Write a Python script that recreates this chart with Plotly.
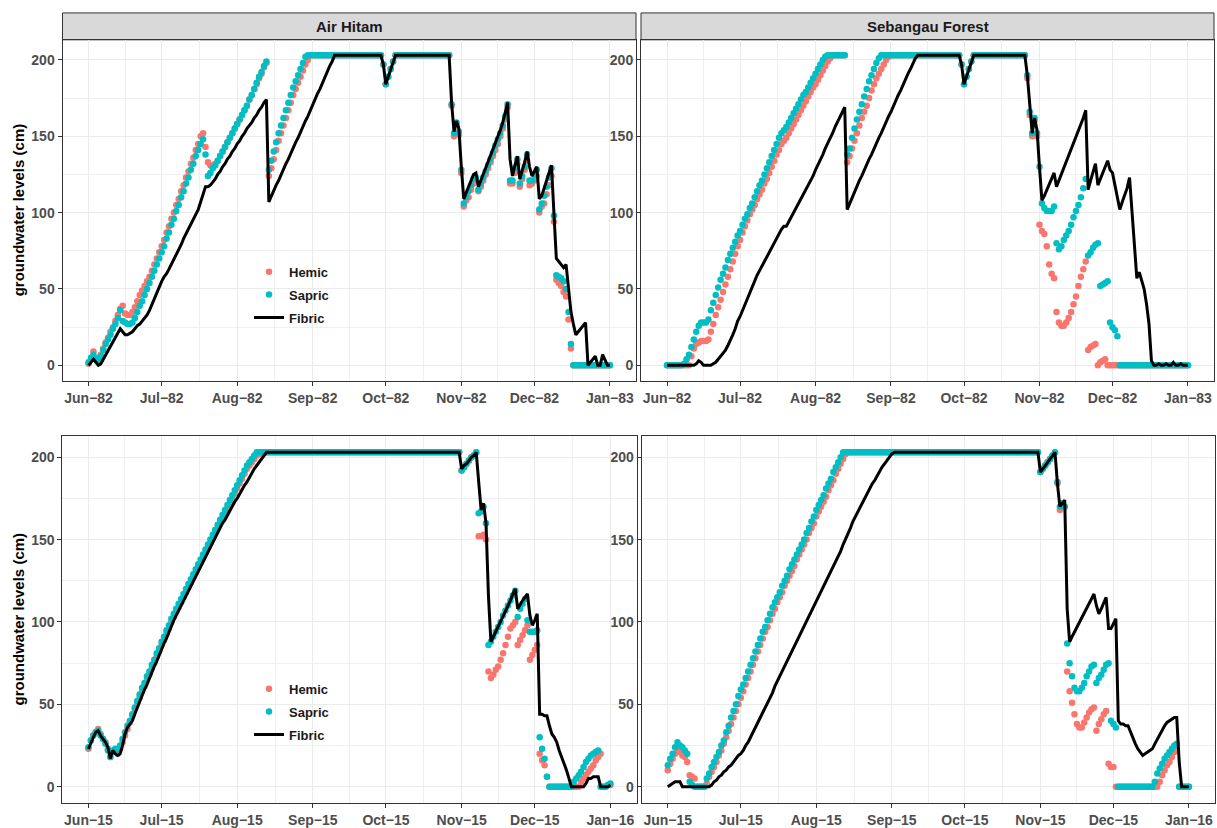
import pandas as pd
import plotly.graph_objects as go

FONT = "Liberation Sans, Arial, Helvetica, sans-serif"
HEMIC_COLOR = "#F8766D"
SAPRIC_COLOR = "#00BFC4"
FIBRIC_COLOR = "#000000"
W, H = 1217, 828

# ---------------------------------------------------------------- data
dates_1982 = pd.date_range("1982-06-01", "1983-01-01", freq="D")
dates_2015 = pd.date_range("2015-06-01", "2016-01-01", freq="D")
month_labels_1982 = ["Jun−82", "Jul−82", "Aug−82", "Sep−82", "Oct−82", "Nov−82", "Dec−82", "Jan−83"]
month_labels_2015 = ["Jun−15", "Jul−15", "Aug−15", "Sep−15", "Oct−15", "Nov−15", "Dec−15", "Jan−16"]
site_names = ["Air Hitam", "Sebangau Forest"]
series_names = ["Hemic", "Sapric", "Fibric"]
y_ticks = [0, 50, 100, 150, 200]
y_minor = [25, 75, 125, 175]
y_title = "groundwater levels (cm)"

# daily groundwater levels (cm), 1 Jun 1982 .. 1 Jan 1983
ah82_hemic = [
    1, 4, 9, 5, 4, 7, 11, 15, 18, 22,
    25, 29, 33, 37, 39, 34, 33, 33, 35, 38,
    42, 46, 49, 52, 55, 58, 62, 66, 70, 74,
    78, 82, 87, 91, 96, 100, 105, 109, 114, 118,
    123, 127, 132, 136, 141, 145, 150, 152, 143, 133,
    131, 130, 132, 134, 137, 140, 143, 146, 149, 152,
    155,
    158, 161, 164, 167, 170, 174, 177, 181, 184, 188,
    191, 195, 198, 124, 129, 135, 141, 147, 152, 157,
    162, 167, 172, 177, 181, 185, 189, 193, 197, 200,
    203,
    203, 203, 203, 203, 203, 203, 203, 203, 203, 203,
    203, 203, 203, 203, 203, 203, 203, 203, 203, 203,
    203, 203, 203, 203, 203, 203, 203, 203, 203, 197,
    184, 189, 194, 199, 203, 203, 203, 203, 203, 203,
    203, 203, 203, 203, 203, 203, 203, 203, 203, 203,
    203, 203, 203, 203, 203, 203, 203, 170, 150, 157,
    151,
    126, 104, 108, 110, 115, 119, 121, 114, 117, 121,
    125, 129, 133, 137, 141, 145, 150, 155, 161, 169,
    119, 119, 126, 132, 117, 122, 128, 134, 118, 119,
    121, 124, 100, 104, 106, 112, 118, 124, 94, 56,
    54, 52, 48, 45, 30, 11, 0, 0, 0, 0,
    0, 0, 0, 0, 0, 0, 0, 0, 0, 0,
    0,
    0,
]
ah82_sapric = [
    2, 5, 7, 4, 3, 6, 10, 14, 17, 20,
    24, 27, 31, 36, 29, 28, 27, 27, 28, 31,
    35, 39, 42, 46, 50, 54, 58, 62, 66, 70,
    74, 78, 83, 87, 92, 96, 101, 105, 110, 114,
    119, 123, 128, 132, 137, 141, 145, 148, 138, 124,
    126, 129, 131, 134, 137, 140, 143, 146, 149, 152,
    155,
    158, 161, 164, 167, 170, 174, 177, 181, 185, 189,
    192, 196, 199, 128, 134, 140, 146, 152, 157, 162,
    167, 172, 177, 182, 186, 190, 194, 198, 202, 203,
    203,
    203, 203, 203, 203, 203, 203, 203, 203, 203, 203,
    203, 203, 203, 203, 203, 203, 203, 203, 203, 203,
    203, 203, 203, 203, 203, 203, 203, 203, 203, 197,
    184, 189, 194, 199, 203, 203, 203, 203, 203, 203,
    203, 203, 203, 203, 203, 203, 203, 203, 203, 203,
    203, 203, 203, 203, 203, 203, 203, 171, 152, 159,
    153,
    128, 106, 110, 114, 118, 122, 123, 115, 119, 123,
    127, 131, 135, 139, 144, 148, 152, 157, 163, 171,
    121, 121, 129, 135, 119, 124, 130, 138, 121, 121,
    125, 128, 102, 106, 111, 117, 123, 129, 98, 59,
    58, 57, 55, 50, 35, 14, 0, 0, 0, 0,
    0, 0, 0, 0, 0, 0, 0, 0, 0, 0,
    0,
    0,
]
ah82_fibric = [
    0, 2, 4, 2, 0, 1, 4, 7, 10, 12,
    15, 18, 21, 24, 22, 20, 20, 21, 22, 24,
    26, 27, 29, 31, 33, 36, 40, 44, 48, 52,
    55, 58, 60, 63, 66, 69, 73, 76, 79, 83,
    86, 89, 92, 95, 99, 102, 107, 112, 117, 117,
    118, 120, 122, 125, 127, 130, 132, 135, 137, 140,
    142,
    145, 147, 150, 152, 155, 157, 159, 162, 164, 167,
    169, 172, 174, 107, 111, 114, 118, 121, 125, 128,
    132, 135, 139, 142, 146, 149, 153, 156, 160, 163,
    167,
    171, 174, 178, 181, 185, 189, 192, 196, 199, 203,
    203, 203, 203, 203, 203, 203, 203, 203, 203, 203,
    203, 203, 203, 203, 203, 203, 203, 203, 203, 197,
    184, 189, 194, 199, 203, 203, 203, 203, 203, 203,
    203, 203, 203, 203, 203, 203, 203, 203, 203, 203,
    203, 203, 203, 203, 203, 203, 203, 172, 153, 160,
    155,
    130, 109, 113, 117, 121, 125, 126, 117, 121, 125,
    129, 133, 137, 141, 146, 150, 154, 159, 165, 172,
    135, 124, 131, 137, 122, 127, 133, 140, 130, 124,
    127, 130, 109, 111, 116, 121, 126, 131, 100, 70,
    68, 66, 64, 66, 51, 35, 27, 20, 22, 24,
    26, 28, 0, 2, 4, 6, 0, 0, 7, 3,
    0,
    0,
]

sb82_hemic = [
    0, 0, 0, 0, 0, 0, 0, 0, 0, 0,
    6, 11, 14, 15, 16, 16, 16, 17, 22, 27,
    33, 38, 43, 48, 53, 58, 63, 68, 73, 78,
    82, 87, 91, 95, 99, 102, 105, 109, 112, 115,
    119, 122, 126, 130, 134, 138, 141, 145, 147, 149,
    152, 155, 158, 161, 164, 167, 170, 173, 176, 179,
    182,
    184, 187, 190, 193, 196, 199, 201, 203, 203, 203,
    203, 203, 203, 133, 137, 142, 147, 152, 157, 162,
    166, 170, 175, 180, 184, 188, 191, 194, 197, 200,
    202,
    203, 203, 203, 203, 203, 203, 203, 203, 203, 203,
    203, 203, 203, 203, 203, 203, 203, 203, 203, 203,
    203, 203, 203, 203, 203, 203, 203, 203, 203, 197,
    184, 189, 194, 199, 203, 203, 203, 203, 203, 203,
    203, 203, 203, 203, 203, 203, 203, 203, 203, 203,
    203, 203, 203, 203, 203, 203, 188, 164, 150, 160,
    150,
    92, 88, 86, 78, 66, 60, 57, 35, 28, 26,
    26, 28, 31, 35, 40, 45, 52, 58, 63, 68,
    10, 12, 13, 14, 0, 2, 3, 4, 0, 0,
    0, 0, 0, 0, 0, 0, 0, 0, 0, 0,
    0, 0, 0, 0, 0, 0, 0, 0, 0, 0,
    0, 0, 0, 0, 0, 0, 0, 0, 0, 0,
    0,
    0,
]
sb82_sapric = [
    0, 0, 0, 0, 0, 0, 0, 1, 4, 7,
    12, 17, 22, 26, 28, 28, 28, 30, 36, 41,
    46, 51, 56, 60, 64, 69, 73, 77, 81, 85,
    88, 92, 96, 99, 103, 106, 110, 114, 118, 121,
    125, 129, 133, 137, 141, 145, 149, 152, 154, 156,
    159, 162, 165, 168, 171, 174, 177, 179, 182, 185,
    188,
    191, 194, 197, 200, 202, 203, 203, 203, 203, 203,
    203, 203, 203, 138, 142, 149, 155, 161, 166, 171,
    176, 181, 186, 190, 194, 198, 201, 203, 203, 203,
    203,
    203, 203, 203, 203, 203, 203, 203, 203, 203, 203,
    203, 203, 203, 203, 203, 203, 203, 203, 203, 203,
    203, 203, 203, 203, 203, 203, 203, 203, 203, 197,
    184, 189, 194, 199, 203, 203, 203, 203, 203, 203,
    203, 203, 203, 203, 203, 203, 203, 203, 203, 203,
    203, 203, 203, 203, 203, 203, 190, 166, 152, 162,
    152,
    130, 106, 103, 101, 101, 101, 104, 80, 76, 78,
    82, 85, 88, 92, 97, 101, 105, 110, 116, 122,
    72, 74, 77, 79, 80, 52, 53, 54, 55, 28,
    25, 23, 19, 0, 0, 0, 0, 0, 0, 0,
    0, 0, 0, 0, 0, 0, 0, 0, 0, 0,
    0, 0, 0, 0, 0, 0, 0, 0, 0, 0,
    0,
    0,
]
sb82_fibric = [
    0, 0, 0, 0, 0, 0, 0, 0, 0, 0,
    0, 0, 1, 3, 2, 0, 0, 0, 0, 1,
    2, 4, 6, 8, 10, 13, 16, 20, 24, 29,
    32, 36, 40, 44, 48, 52, 56, 59, 62, 65,
    68, 72, 75, 77, 80, 83, 86, 89, 91, 91,
    94, 97, 100, 103, 106, 109, 112, 115, 118, 121,
    124,
    128, 131, 135, 138, 142, 145, 149, 152, 156, 159,
    162, 165, 169, 102, 106, 110, 114, 117, 121, 124,
    128, 131, 135, 138, 142, 145, 149, 152, 156, 159,
    163,
    166, 170, 173, 177, 180, 184, 187, 191, 194, 198,
    201, 203, 203, 203, 203, 203, 203, 203, 203, 203,
    203, 203, 203, 203, 203, 203, 203, 203, 203, 197,
    184, 189, 194, 199, 203, 203, 203, 203, 203, 203,
    203, 203, 203, 203, 203, 203, 203, 203, 203, 203,
    203, 203, 203, 203, 203, 203, 190, 168, 152, 162,
    154,
    130, 108, 111, 115, 119, 123, 126, 117, 121, 125,
    129, 133, 137, 141, 145, 149, 153, 157, 162, 167,
    115, 121, 126, 132, 118, 122, 126, 130, 134, 128,
    126, 118, 110, 102, 107, 111, 116, 123, 100, 75,
    57, 61, 56, 50, 40, 27, 3, 0, 0, 1,
    0, 0, 1, 0, 0, 2, 0, 0, 1, 0,
    0,
    0,
]

# daily groundwater levels (cm), 1 Jun 2015 .. 1 Jan 2016
ah15_hemic = [
    23, 28, 31, 33, 35, 32, 29, 27, 23, 18,
    21, 21, 20, 23, 27, 31, 35, 39, 43, 47,
    51, 54, 58, 61, 65, 68, 72, 75, 79, 82,
    86, 89, 93, 96, 100, 103, 106, 109, 112, 115,
    118, 121, 124, 127, 130, 133, 136, 139, 142, 145,
    148, 151, 154, 157, 160, 163, 166, 169, 172, 175,
    178,
    181, 184, 187, 190, 193, 195, 197, 199, 201, 202,
    203, 203, 203, 203, 203, 203, 203, 203, 203, 203,
    203, 203, 203, 203, 203, 203, 203, 203, 203, 203,
    203,
    203, 203, 203, 203, 203, 203, 203, 203, 203, 203,
    203, 203, 203, 203, 203, 203, 203, 203, 203, 203,
    203, 203, 203, 203, 203, 203, 203, 203, 203, 203,
    203, 203, 203, 203, 203, 203, 203, 203, 203, 203,
    203, 203, 203, 203, 203, 203, 203, 203, 203, 203,
    203, 203, 203, 203, 203, 203, 203, 203, 203, 203,
    203,
    192, 194, 196, 198, 200, 201, 203, 152, 152, 153,
    150, 70, 66, 68, 71, 73, 77, 81, 86, 91,
    96, 98, 100, 86, 89, 92, 95, 98, 77, 80,
    83, 86, 20, 16, 13, 6, 0, 0, 0, 0,
    0, 0, 0, 0, 0, 0, 0, 0, 0, 3,
    5, 7, 9, 11, 13, 16, 18, 20, 0, 0,
    1,
    1,
]
ah15_sapric = [
    24, 28, 31, 33, 34, 31, 29, 26, 22, 18,
    22, 23, 22, 25, 29, 33, 37, 40, 44, 48,
    52, 56, 60, 63, 67, 70, 74, 77, 81, 84,
    88, 91, 95, 98, 102, 105, 108, 111, 114, 117,
    120, 123, 126, 129, 132, 135, 138, 141, 144, 147,
    150, 153, 156, 159, 162, 165, 168, 171, 174, 177,
    180,
    183, 186, 189, 192, 195, 197, 199, 201, 203, 203,
    203, 203, 203, 203, 203, 203, 203, 203, 203, 203,
    203, 203, 203, 203, 203, 203, 203, 203, 203, 203,
    203,
    203, 203, 203, 203, 203, 203, 203, 203, 203, 203,
    203, 203, 203, 203, 203, 203, 203, 203, 203, 203,
    203, 203, 203, 203, 203, 203, 203, 203, 203, 203,
    203, 203, 203, 203, 203, 203, 203, 203, 203, 203,
    203, 203, 203, 203, 203, 203, 203, 203, 203, 203,
    203, 203, 203, 203, 203, 203, 203, 203, 203, 203,
    203,
    192, 194, 196, 198, 200, 201, 203, 166, 167, 170,
    160, 86, 88, 91, 94, 97, 100, 104, 107, 110,
    113, 116, 119, 103, 108, 111, 114, 101, 94, 94,
    94, 95, 30, 23, 17, 6, 0, 0, 0, 0,
    0, 0, 0, 0, 0, 0, 3, 5, 7, 9,
    12, 15, 17, 19, 20, 21, 22, 0, 0, 0,
    1,
    2,
]
ah15_fibric = [
    23, 27, 30, 33, 34, 31, 29, 27, 24, 17,
    22, 20, 19, 20, 25, 32, 36, 38, 40, 44,
    48, 52, 55, 59, 62, 66, 69, 73, 76, 80,
    83, 87, 90, 94, 97, 101, 104, 107, 110, 113,
    116, 119, 122, 125, 128, 131, 134, 137, 140, 143,
    146, 149, 152, 154, 157, 160, 162, 165, 168, 170,
    173,
    175, 178, 180, 183, 185, 188, 190, 193, 195, 197,
    199, 201, 203, 203, 203, 203, 203, 203, 203, 203,
    203, 203, 203, 203, 203, 203, 203, 203, 203, 203,
    203,
    203, 203, 203, 203, 203, 203, 203, 203, 203, 203,
    203, 203, 203, 203, 203, 203, 203, 203, 203, 203,
    203, 203, 203, 203, 203, 203, 203, 203, 203, 203,
    203, 203, 203, 203, 203, 203, 203, 203, 203, 203,
    203, 203, 203, 203, 203, 203, 203, 203, 203, 203,
    203, 203, 203, 203, 203, 203, 203, 203, 203, 203,
    203,
    193, 195, 196, 198, 200, 201, 203, 185, 168, 172,
    160, 116, 88, 91, 94, 97, 101, 104, 107, 110,
    113, 117, 120, 108, 111, 113, 115, 117, 104, 98,
    101, 105, 44, 44, 43, 43, 37, 32, 30, 27,
    22, 18, 15, 10, 5, 0, 0, 0, 0, 0,
    0, 2, 5, 5, 6, 6, 6, 0, 0, 0,
    0,
    1,
]

sb15_hemic = [
    10, 14, 17, 20, 22, 21, 19, 18, 15, 7,
    6, 5, 0, 0, 0, 0, 2, 6, 9, 12,
    15, 19, 22, 26, 30, 34, 38, 42, 46, 50,
    54, 58, 62, 66, 70, 74, 78, 82, 86, 90,
    94, 97, 101, 105, 108, 112, 115, 118, 122, 125,
    128, 131, 134, 138, 141, 144, 147, 150, 154, 157,
    160,
    164, 167, 170, 173, 176, 180, 183, 186, 190, 193,
    196, 199, 202, 203, 203, 203, 203, 203, 203, 203,
    203, 203, 203, 203, 203, 203, 203, 203, 203, 203,
    203,
    203, 203, 203, 203, 203, 203, 203, 203, 203, 203,
    203, 203, 203, 203, 203, 203, 203, 203, 203, 203,
    203, 203, 203, 203, 203, 203, 203, 203, 203, 203,
    203, 203, 203, 203, 203, 203, 203, 203, 203, 203,
    203, 203, 203, 203, 203, 203, 203, 203, 203, 203,
    203, 203, 203, 203, 203, 203, 203, 203, 203, 203,
    203,
    191, 193, 195, 197, 199, 201, 203, 184, 168, 170,
    170, 70, 58, 51, 44, 38, 36, 36, 39, 42,
    45, 47, 48, 34, 38, 41, 44, 46, 14, 12,
    12, 0, 0, 0, 0, 0, 0, 0, 0, 0,
    0, 0, 0, 0, 0, 0, 0, 0, 0, 3,
    7, 10, 13, 15, 18, 21, 22, 0, 0, 0,
    0,
    0,
]
sb15_sapric = [
    13, 17, 20, 24, 27, 25, 24, 22, 20, 3,
    1, 0, 0, 0, 0, 0, 5, 8, 12, 15,
    18, 21, 25, 28, 33, 37, 42, 46, 50, 55,
    59, 62, 66, 70, 74, 78, 82, 86, 90, 94,
    97, 101, 105, 109, 112, 115, 118, 122, 125, 128,
    132, 135, 138, 141, 144, 147, 150, 154, 157, 161,
    164,
    168, 171, 174, 177, 181, 184, 187, 191, 194, 197,
    200, 203, 203, 203, 203, 203, 203, 203, 203, 203,
    203, 203, 203, 203, 203, 203, 203, 203, 203, 203,
    203,
    203, 203, 203, 203, 203, 203, 203, 203, 203, 203,
    203, 203, 203, 203, 203, 203, 203, 203, 203, 203,
    203, 203, 203, 203, 203, 203, 203, 203, 203, 203,
    203, 203, 203, 203, 203, 203, 203, 203, 203, 203,
    203, 203, 203, 203, 203, 203, 203, 203, 203, 203,
    203, 203, 203, 203, 203, 203, 203, 203, 203, 203,
    203,
    191, 193, 195, 197, 199, 201, 203, 185, 170, 172,
    170, 87, 75, 67, 60, 58, 58, 60, 63, 67,
    70, 73, 74, 63, 66, 68, 71, 74, 75, 40,
    38, 36, 0, 0, 0, 0, 0, 0, 0, 0,
    0, 0, 0, 0, 0, 0, 0, 3, 8, 11,
    14, 17, 19, 21, 23, 25, 26, 0, 0, 0,
    0,
    0,
]
sb15_fibric = [
    0, 1, 2, 3, 3, 3, 0, 0, 0, 0,
    0, 0, 0, 0, 0, 0, 0, 0, 1, 3,
    4, 6, 7, 9, 10, 12, 13, 15, 17, 19,
    20, 22, 25, 27, 30, 33, 36, 39, 42, 45,
    48, 51, 54, 57, 61, 64, 68, 71, 74, 77,
    80, 83, 86, 89, 92, 95, 98, 101, 104, 107,
    110,
    113, 116, 119, 122, 125, 128, 131, 134, 137, 140,
    143, 147, 150, 154, 157, 161, 164, 167, 170, 173,
    176, 179, 182, 184, 186, 189, 191, 194, 196, 198,
    200,
    202, 203, 203, 203, 203, 203, 203, 203, 203, 203,
    203, 203, 203, 203, 203, 203, 203, 203, 203, 203,
    203, 203, 203, 203, 203, 203, 203, 203, 203, 203,
    203, 203, 203, 203, 203, 203, 203, 203, 203, 203,
    203, 203, 203, 203, 203, 203, 203, 203, 203, 203,
    203, 203, 203, 203, 203, 203, 203, 203, 203, 203,
    203,
    191, 193, 195, 197, 199, 201, 203, 184, 170, 172,
    174, 108, 88, 91, 94, 97, 100, 103, 106, 109,
    112, 115, 117, 110, 105, 108, 111, 115, 96, 96,
    99, 102, 40, 38, 38, 37, 37, 33, 29, 26,
    23, 21, 19, 20, 21, 22, 23, 26, 29, 32,
    34, 37, 39, 40, 41, 42, 42, 15, 0, 0,
    0,
    0,
]

all_series = {
    "ah82_hemic": ah82_hemic, "ah82_sapric": ah82_sapric, "ah82_fibric": ah82_fibric,
    "sb82_hemic": sb82_hemic, "sb82_sapric": sb82_sapric, "sb82_fibric": sb82_fibric,
    "ah15_hemic": ah15_hemic, "ah15_sapric": ah15_sapric, "ah15_fibric": ah15_fibric,
    "sb15_hemic": sb15_hemic, "sb15_sapric": sb15_sapric, "sb15_fibric": sb15_fibric,
}
for key, vals in all_series.items():
    assert len(vals) == len(dates_1982), (key, len(vals))

# ---------------------------------------------------------------- layout of the four panels (pixel boxes)
panels = [
    dict(box=(62.5, 40, 636, 382.7), dates=dates_1982, labels=month_labels_1982,
         series=(ah82_hemic, ah82_sapric, ah82_fibric), legend="legend", strip=site_names[0]),
    dict(box=(641, 40, 1214, 382.7), dates=dates_1982, labels=month_labels_1982,
         series=(sb82_hemic, sb82_sapric, sb82_fibric), legend=None, strip=site_names[1]),
    dict(box=(62.3, 437.7, 636.5, 807.3), dates=dates_2015, labels=month_labels_2015,
         series=(ah15_hemic, ah15_sapric, ah15_fibric), legend="legend2", strip=None),
    dict(box=(641.7, 437.7, 1215, 807.3), dates=dates_2015, labels=month_labels_2015,
         series=(sb15_hemic, sb15_sapric, sb15_fibric), legend=None, strip=None),
]


def px_x(v):
    return v / W


def px_y(v):
    return 1 - v / H


tick_font = dict(family=FONT, size=14, color="#4D4D4D", weight="bold")
axis_style = dict(
    showline=True, mirror=True, linecolor="#333333", linewidth=1,
    ticks="outside", ticklen=4, tickwidth=1, tickcolor="#333333",
    showgrid=True, gridcolor="#EBEBEB", gridwidth=1,
    zeroline=False, tickfont=tick_font, fixedrange=True,
)

fig = go.Figure()
layout = {}
shapes = []
annotations = []

for i, p in enumerate(panels, start=1):
    sfx = "" if i == 1 else str(i)
    hemic, sapric, fibric = p["series"]
    show = p["legend"] is not None
    leg = p["legend"] or "legend"
    colors = [HEMIC_COLOR, SAPRIC_COLOR]
    for name, vals, col in zip(series_names[:2], (hemic, sapric), colors):
        fig.add_trace(go.Scatter(
            x=p["dates"], y=vals, mode="markers", name=name,
            marker=dict(size=6.5, color=col, line=dict(width=0)),
            xaxis="x" + sfx, yaxis="y" + sfx,
            showlegend=show, legend=leg, legendgroup=f"{name}{i}",
        ))
    fig.add_trace(go.Scatter(
        x=p["dates"], y=fibric, mode="lines", name=series_names[2],
        line=dict(color=FIBRIC_COLOR, width=3),
        xaxis="x" + sfx, yaxis="y" + sfx,
        showlegend=show, legend=leg, legendgroup=f"{series_names[2]}{i}",
    ))

    x0, y0, x1, y1 = p["box"]
    first, last = p["dates"][0], p["dates"][-1]
    pad = (last - first) * 0.05
    majors = pd.date_range(first, last, freq="MS")
    minors = majors[:-1] + (majors[1:] - majors[:-1]) / 2
    fmt = "%Y-%m-%d %H:%M:%S"
    layout["xaxis" + sfx] = dict(
        domain=[px_x(x0), px_x(x1)], anchor="y" + sfx, type="date",
        range=[(first - pad).strftime(fmt), (last + pad).strftime(fmt)],
        tickmode="array", tickvals=[d.strftime(fmt) for d in majors], ticktext=p["labels"],
        minor=dict(tickmode="array", tickvals=[d.strftime(fmt) for d in minors],
                   showgrid=True, gridcolor="#EFEFEF", gridwidth=0.7, ticks=""),
        **axis_style,
    )
    layout["yaxis" + sfx] = dict(
        domain=[px_y(y1), px_y(y0)], anchor="x" + sfx,
        range=[-10.15, 213.15], tickmode="array", tickvals=y_ticks,
        minor=dict(tickmode="array", tickvals=y_minor, showgrid=True,
                   gridcolor="#EFEFEF", gridwidth=0.7, ticks=""),
        **axis_style,
    )

    if p["strip"]:
        shapes.append(dict(type="rect", xref="paper", yref="paper",
                           x0=px_x(x0), x1=px_x(x1), y0=px_y(40), y1=px_y(13),
                           fillcolor="#D9D9D9", line=dict(color="#333333", width=1), layer="below"))
        annotations.append(dict(text=p["strip"], xref="paper", yref="paper",
                                x=px_x((x0 + x1) / 2), y=px_y(26.5), showarrow=False,
                                xanchor="center", yanchor="middle",
                                font=dict(family=FONT, size=15, color="#1A1A1A", weight="bold")))
    if i in (1, 3):
        annotations.append(dict(text=y_title, xref="paper", yref="paper",
                                x=px_x(18), y=px_y((y0 + y1) / 2), showarrow=False,
                                textangle=-90, xanchor="center", yanchor="middle",
                                font=dict(family=FONT, size=15, color="#000000", weight="bold")))

legend_style = dict(
    xanchor="left", yanchor="top", bgcolor="rgba(0,0,0,0)", borderwidth=0,
    font=dict(family=FONT, size=13, color="#1A1A1A", weight="bold"),
    itemwidth=30, tracegroupgap=3, itemclick=False, itemdoubleclick=False,
)

fig.update_layout(
    width=W, height=H, autosize=False,
    margin=dict(l=0, r=0, t=0, b=0),
    paper_bgcolor="white", plot_bgcolor="white",
    font=dict(family=FONT),
    shapes=shapes, annotations=annotations,
    legend=dict(x=px_x(249), y=px_y(258), **legend_style),
    legend2=dict(x=px_x(249), y=px_y(677), **legend_style),
    **layout,
)

fig.write_html("out.html")
